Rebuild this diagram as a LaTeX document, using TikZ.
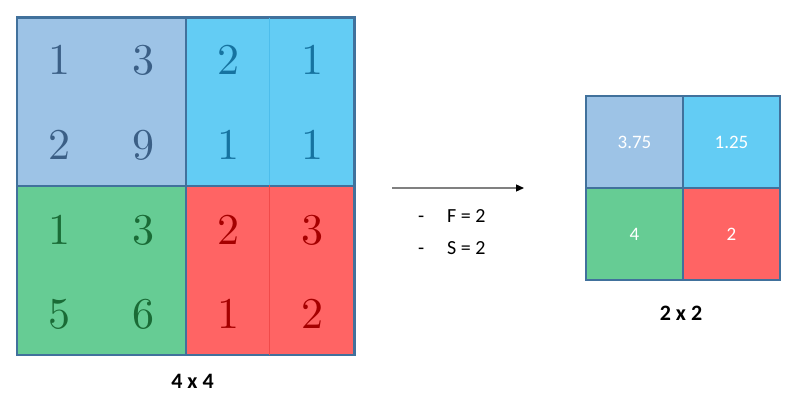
\documentclass[tikz,border=0pt]{standalone}
\usepackage{fontspec}
\setmainfont{Latin Modern Roman}
\newfontfamily\carl{Carlito}
\newfontfamily\digitfont{lmroman10-regular.otf}
\usetikzlibrary{arrows.meta}
\definecolor{fillA}{HTML}{9DC3E6}
\definecolor{fillB}{HTML}{63CCF4}
\definecolor{fillC}{HTML}{66CC94}
\definecolor{fillD}{HTML}{FF6464}
\definecolor{txtA}{HTML}{3B5F86}
\definecolor{txtB}{HTML}{1673A0}
\definecolor{txtC}{HTML}{1A6B36}
\definecolor{txtD}{HTML}{A50000}
\definecolor{edge}{HTML}{41719C}
\definecolor{innerB}{HTML}{4DBDEB}
\definecolor{innerD}{HTML}{F04A4A}
\definecolor{arrowgray}{HTML}{808080}
\begin{document}
\begin{tikzpicture}[x=1pt,y=-1pt,
  quad/.style={draw=edge, line width=1.8pt, inner sep=0pt, minimum width=168.25pt, minimum height=168.25pt},
  small/.style={draw=edge, line width=1.8pt, inner sep=0pt, minimum width=97pt, minimum height=92pt},
  digit/.style={inner sep=0pt, font=\digitfont\fontsize{44}{44}\selectfont},
  outval/.style={inner sep=0pt, text=white, font=\carl\fontsize{19}{19}\selectfont},
  caption/.style={inner sep=0pt, font=\carl\bfseries\fontsize{22}{22}\selectfont},
  param/.style={inner sep=0pt, anchor=base west, font=\carl\fontsize{20}{20}\selectfont},
  flow/.style={draw=arrowgray, line width=1.3pt, -{Triangle[color=black, length=8pt, width=7pt]}}
]
\useasboundingbox (0,0) rectangle (800,402);

% left 4x4 grid quadrants
\node[quad, fill=fillA] (qA) at (101.625,102.125) {};
\node[quad, fill=fillB] (qB) at (269.875,102.125) {};
\node[quad, fill=fillC] (qC) at (101.625,270.375) {};
\node[quad, fill=fillD] (qD) at (269.875,270.375) {};
\draw[innerB, line width=0.8pt] (qB.north) -- (qB.south);
\draw[innerD, line width=0.8pt] (qD.north) -- (qD.south);
\draw[edge, line width=1.8pt] (qA.north west) rectangle (qD.south east);

% digits
\node[digit, text=txtA] (d11) at (59.6,60) {1};
\node[digit, text=txtA] (d12) at (143.8,60) {3};
\node[digit, text=txtB] (d13) at (228,60) {2};
\node[digit, text=txtB] (d14) at (312.2,60) {1};
\node[digit, text=txtA] (d21) at (59.6,145) {2};
\node[digit, text=txtA] (d22) at (143.8,145) {9};
\node[digit, text=txtB] (d23) at (228,145) {1};
\node[digit, text=txtB] (d24) at (312.2,145) {1};
\node[digit, text=txtC] (d31) at (59.6,230) {1};
\node[digit, text=txtC] (d32) at (143.8,230) {3};
\node[digit, text=txtD] (d33) at (228,230) {2};
\node[digit, text=txtD] (d34) at (312.2,230) {3};
\node[digit, text=txtC] (d41) at (59.6,314) {5};
\node[digit, text=txtC] (d42) at (143.8,314) {6};
\node[digit, text=txtD] (d43) at (228,314) {1};
\node[digit, text=txtD] (d44) at (312.2,314) {2};

\node[caption] (lcap) at (192.5,381) {4 x 4};

% arrow and parameters
\coordinate (astart) at (392,188);
\coordinate (aend) at (524,188);
\draw[flow] (astart) -- (aend);
\node[param] (b1) at (418,222) {-};
\node[param] (p1) at (447,222) {F = 2};
\node[param] (b2) at (418,254) {-};
\node[param] (p2) at (447,254) {S = 2};

% right 2x2 grid
\node[small, fill=fillA] (rA) at (634.5,142) {};
\node[small, fill=fillB] (rB) at (731.5,142) {};
\node[small, fill=fillC] (rC) at (634.5,234) {};
\node[small, fill=fillD] (rD) at (731.5,234) {};
\node[outval] (vA) at (rA.center) {3.75};
\node[outval] (vB) at (rB.center) {1.25};
\node[outval] (vC) at (rC.center) {4};
\node[outval] (vD) at (rD.center) {2};

\node[caption] (rcap) at (681,313) {2 x 2};
\end{tikzpicture}
\end{document}
